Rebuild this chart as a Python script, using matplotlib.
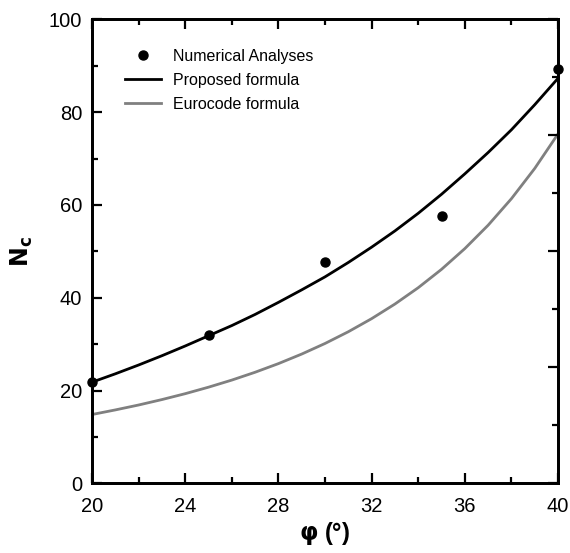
import numpy as np
import matplotlib.pyplot as plt
from matplotlib.ticker import MultipleLocator

plt.rcParams['font.family'] = ['Liberation Sans', 'DejaVu Sans']

# numerical analyses
phi_num = [20, 25, 30, 35, 40]
nc_num = [21.9, 32.0, 47.6, 57.6, 89.3]

# curves sampled every degree
phi_curve = list(range(20, 41))
nc_proposed = [21.8, 23.6, 25.5, 27.5, 29.6, 31.8, 34.0, 36.4, 39.0, 41.7, 44.5,
               47.6, 50.9, 54.4, 58.2, 62.3, 66.7, 71.3, 76.2, 81.6, 87.3]
nc_eurocode = [14.83, 15.82, 16.88, 18.05, 19.32, 20.72, 22.25, 23.94, 25.80, 27.86, 30.14,
               32.67, 35.49, 38.64, 42.16, 46.12, 50.59, 55.63, 61.35, 67.87, 75.31]

fig = plt.figure(figsize=(5.70, 5.53), dpi=100)
ax = fig.add_axes([0.1614, 0.126, 0.8176, 0.839])

ax.plot(phi_num, nc_num, 'o', color='black', markersize=6.5, clip_on=False,
        zorder=5, label='Numerical Analyses')
ax.plot(phi_curve, nc_proposed, color='black', lw=2.0, label='Proposed formula')
ax.plot(phi_curve, nc_eurocode, color='#808080', lw=2.0, label='Eurocode formula')

ax.set_xlim(20, 40)
ax.set_ylim(0, 100)
ax.xaxis.set_major_locator(MultipleLocator(4))
ax.xaxis.set_minor_locator(MultipleLocator(2))
ax.yaxis.set_major_locator(MultipleLocator(20))
ax.yaxis.set_minor_locator(MultipleLocator(10))
ax.tick_params(which='both', direction='in', top=True, right=False, width=1.6,
               labelsize=14.5)
ax.tick_params(axis='x', pad=10)
ax.tick_params(axis='y', pad=7)
ax.tick_params(which='major', length=7)
ax.tick_params(which='minor', length=4)
for s in ax.spines.values():
    s.set_linewidth(2.0)

# right axis carries its own tick spacing
ax2 = ax.twinx()
ax2.set_ylim(0, 80)
ax2.yaxis.set_major_locator(MultipleLocator(20))
ax2.yaxis.set_minor_locator(MultipleLocator(10))
ax2.tick_params(which='both', direction='in', width=1.6, labelright=False)
ax2.tick_params(which='major', length=7)
ax2.tick_params(which='minor', length=4)
for s in ax2.spines.values():
    s.set_linewidth(2.0)

ax.set_xlabel(r'$\boldsymbol{\varphi}$ (°)', fontsize=17, fontweight='bold', labelpad=3)
ax.set_ylabel(r'$\mathbf{N_c}$', fontsize=17, fontweight='bold', labelpad=10)

leg = ax.legend(loc='upper left', bbox_to_anchor=(0.058, 0.95), frameon=False,
                fontsize=11.5, handlelength=2.2, handletextpad=0.8, labelspacing=0.55,
                borderaxespad=0)

fig.savefig('out.png', dpi=100)
